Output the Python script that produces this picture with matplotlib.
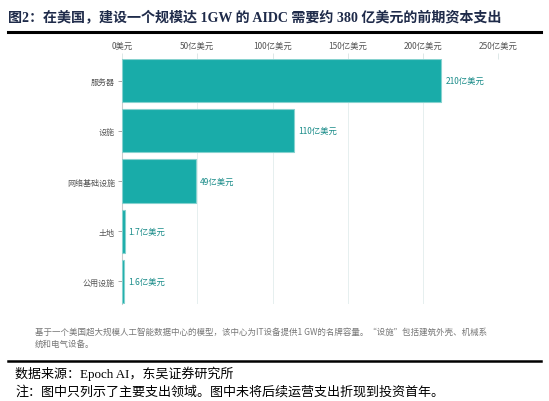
import numpy as np
import matplotlib.pyplot as plt
from matplotlib.lines import Line2D

# data (亿美元)
categories = ["服务器", "设施", "网络基础设施", "土地", "公用设施"]
values = [212, 114, 49, 1.7, 1.6]
value_labels = ["210亿美元", "110亿美元", "49亿美元", "1.7亿美元", "1.6亿美元"]
xticks = [0, 50, 100, 150, 200, 250]
xtick_labels = ["0美元", "50亿美元", "100亿美元", "150亿美元", "200亿美元", "250亿美元"]

title = "图2：在美国，建设一个规模达 1GW 的 AIDC 需要约 380 亿美元的前期资本支出"
note1 = "基于一个美国超大规模人工智能数据中心的模型，该中心为IT设备提供1 GW的名牌容量。“设施”包括建筑外壳、机械系"
note2 = "统和电气设备。"
source = "数据来源：Epoch AI，东吴证券研究所"
remark = "注：图中只列示了主要支出领域。图中未将后续运营支出折现到投资首年。"

cjk = ["Noto Sans CJK SC", "DejaVu Sans"]
serif = ["Liberation Serif", "Noto Sans CJK SC"]
plt.rcParams["font.family"] = cjk

W, H = 549, 402
fig = plt.figure(figsize=(W / 100, H / 100), dpi=100)
ax = fig.add_axes([122 / W, 1 - 305 / H, (498.3 - 122) / W, 245 / H])

y = np.arange(len(categories))
ax.barh(y, values, height=0.86, color="#19aca9", edgecolor="#86d2cf", linewidth=0.8, zorder=3)
for yi, v, lab in zip(y, values, value_labels):
    ax.annotate(lab, (v, yi), xytext=(3, 0), textcoords="offset points",
                va="center", ha="left", fontsize=6, color="#1a8c89")

ax.set_xlim(0, 250)
ax.set_ylim(4.45, -0.43)
ax.set_yticks(y)
ax.set_yticklabels(categories, fontsize=5.8, color="#555555")
ax.set_xticks(xticks)
ax.set_xticklabels(xtick_labels, fontsize=6, color="#555555")
ax.xaxis.tick_top()
ax.tick_params(axis="x", length=4.5, width=0.6, color="#d8e4e4", pad=2)
ax.tick_params(axis="y", length=3, width=0.6, color="#999999", pad=2)
ax.grid(axis="x", color="#e6efef", linewidth=0.7, zorder=0)
for s in ["top", "right", "bottom"]:
    ax.spines[s].set_visible(False)
ax.spines["left"].set_color("#cccccc")
ax.spines["left"].set_linewidth(0.8)

# title and rules
fig.text(8 / W, 1 - 17 / H, title, fontsize=10.1, fontweight="bold", color="#1f2b4a",
         family=serif, va="center", ha="left")
fig.add_artist(Line2D([8 / W, 541 / W], [1 - 33 / H] * 2, color="black", linewidth=2.2))
fig.text(35 / W, 1 - 332 / H, note1, fontsize=6.1, color="#777777", va="center", ha="left")
fig.text(35 / W, 1 - 344 / H, note2, fontsize=6.1, color="#777777", va="center", ha="left")
fig.add_artist(Line2D([8 / W, 541 / W], [1 - 362 / H] * 2, color="black", linewidth=1.8))
fig.text(15 / W, 1 - 374 / H, source, fontsize=9.4, color="black", family=serif,
         va="center", ha="left")
fig.text(15 / W, 1 - 392 / H, remark, fontsize=9.4, color="black", family=serif,
         va="center", ha="left")

fig.savefig("out.png", dpi=100)
